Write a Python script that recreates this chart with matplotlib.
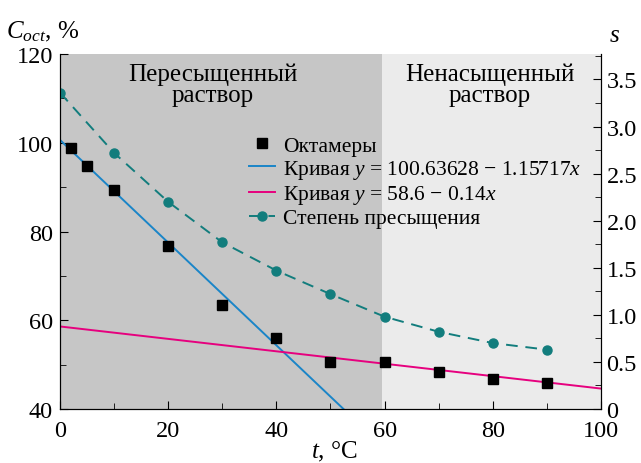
import matplotlib
matplotlib.use("Agg")
from matplotlib import pyplot as plt
from matplotlib.ticker import MultipleLocator
import numpy as np

plt.rcParams['font.family'] = ['Liberation Serif', 'DejaVu Serif']
plt.rcParams['mathtext.fontset'] = 'custom'
plt.rcParams['mathtext.rm'] = 'Liberation Serif'
plt.rcParams['mathtext.it'] = 'Liberation Serif:italic'

# octamer content, %
t_oct = [2, 5, 10, 20, 30, 40, 50, 60, 70, 80, 90]
c_oct = [98.8, 94.7, 89.3, 76.8, 63.5, 55.9, 50.7, 50.5, 48.3, 46.8, 45.8]

# degree of supersaturation
t_s = [0, 10, 20, 30, 40, 50, 60, 70, 80, 90]
s_vals = [3.36, 2.72, 2.20, 1.77, 1.47, 1.22, 0.98, 0.82, 0.70, 0.63]

# fitted lines
fit1 = (100.63628, -1.15717)
fit2 = (58.6, -0.14)
boundary = 59.5

blue = '#1a85c8'
pink = '#e6007e'
teal = '#127d7d'

fig = plt.figure(figsize=(6.41, 4.64), dpi=100)
ax = fig.add_axes([0.0936, 0.1164, 0.844, 0.765])
ax.set_xlim(0, 100)
ax.set_ylim(40, 120)
ax.axvspan(0, boundary, color='#c6c6c6', zorder=0, lw=0)
ax.axvspan(boundary, 100, color='#ebebeb', zorder=0, lw=0)

xx = np.array([0, 100])
l1, = ax.plot(xx, fit1[0] + fit1[1]*xx, color=blue, lw=1.4, zorder=2,
              label='Кривая $y$ = 100.63628 − 1.15717$x$')
l2, = ax.plot(xx, fit2[0] + fit2[1]*xx, color=pink, lw=1.4, zorder=2,
              label='Кривая $y$ = 58.6 − 0.14$x$')
pts, = ax.plot(t_oct, c_oct, 's', color='black', ms=7.5, zorder=3, label='Октамеры')

ax2 = ax.twinx()
ax2.set_ylim(0, 3.77)
ls, = ax2.plot(t_s, s_vals, '--o', color=teal, lw=1.4, ms=6.5, dashes=(6, 4),
               label='Степень пресыщения')

ax.text(28.3, 118.0, 'Пересыщенный\nраствор', ha='center', va='top', fontsize=18,
        linespacing=0.92)
ax.text(79.5, 118.0, 'Ненасыщенный\nраствор', ha='center', va='top', fontsize=18,
        linespacing=0.92)

for a in (ax, ax2):
    a.spines['top'].set_visible(False)
    a.tick_params(direction='in', which='both', labelsize=17.5)
    a.tick_params(which='major', length=6)
    a.tick_params(which='minor', length=4)
ax.xaxis.set_major_locator(MultipleLocator(20))
ax.xaxis.set_minor_locator(MultipleLocator(10))
ax.yaxis.set_major_locator(MultipleLocator(20))
ax.yaxis.set_minor_locator(MultipleLocator(10))
ax2.yaxis.set_minor_locator(MultipleLocator(0.25))
ax2.set_yticks([0, 0.5, 1.0, 1.5, 2.0, 2.5, 3.0, 3.5])
ax2.set_yticklabels(['0', '0.5', '1.0', '1.5', '2.0', '2.5', '3.0', '3.5'])
ax.tick_params(axis='x', pad=8)
ax.tick_params(axis='y', pad=5)
ax2.tick_params(axis='y', pad=4)

fig.text(0.067, 0.905, '$C_{oct}$, %', fontsize=18, ha='center', va='bottom')
fig.text(0.958, 0.899, '$s$', fontsize=18, ha='center', va='bottom')
fig.text(0.522, 0.0, '$t$, °C', fontsize=18, ha='center', va='bottom')

ax2.legend([pts, l1, l2, ls], [h.get_label() for h in (pts, l1, l2, ls)],
           loc='upper left', bbox_to_anchor=(0.35, 0.77), frameon=False,
           fontsize=15.5, handlelength=1.2, handletextpad=0.35, labelspacing=0.1,
           borderaxespad=0, borderpad=0)

fig.savefig('out.png', dpi=100)
